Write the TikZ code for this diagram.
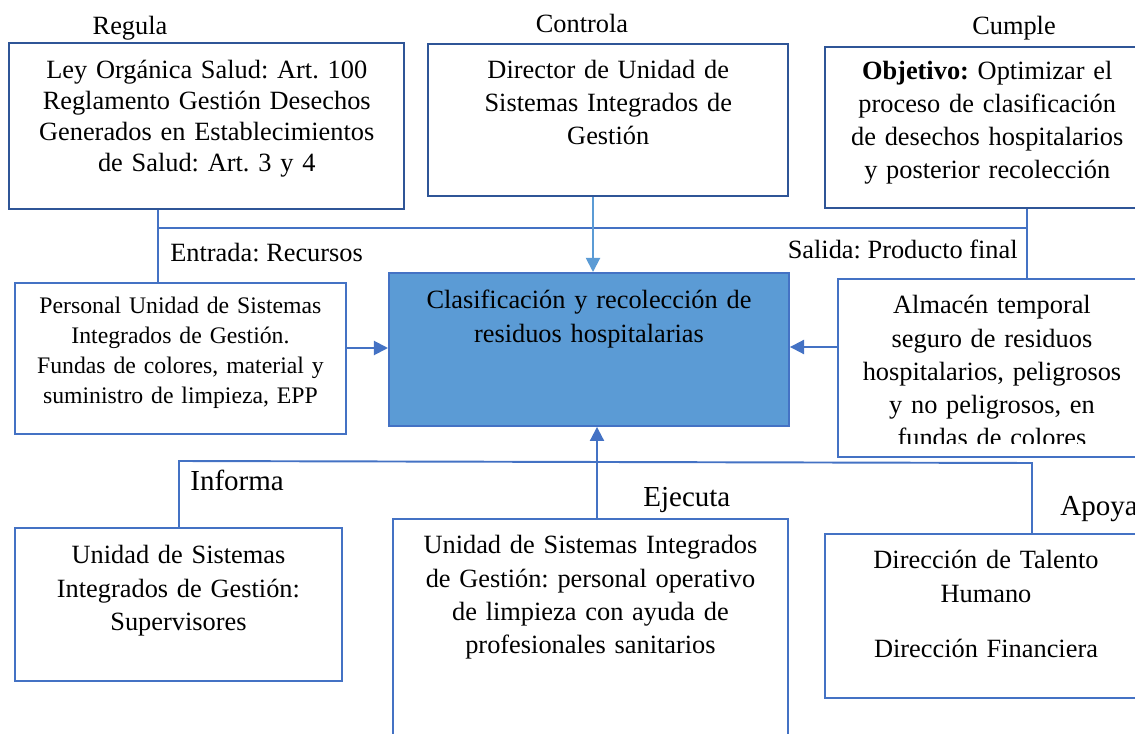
\documentclass[tikz,border=0pt]{standalone}
\usepackage{fontspec}
\setmainfont{Liberation Serif}
\usetikzlibrary{arrows.meta}
\frenchspacing

\definecolor{azuloscuro}{HTML}{2F5597}
\definecolor{azul}{HTML}{4472C4}
\definecolor{azulclaro}{HTML}{5B9BD5}

\tikzset{
  caja/.style={draw=azul, line width=1.1pt, anchor=north west, align=center, inner sep=0pt, font=\fontsize{15}{18.8}\selectfont},
  cajasup/.style={caja, draw=azuloscuro, line width=1.4pt},
  etiqueta/.style={font=\fontsize{15}{18}\selectfont, inner sep=0pt},
  etiquetagrande/.style={font=\fontsize{16.5}{20}\selectfont, inner sep=0pt, anchor=base west},
  linea/.style={azul, line width=1.1pt},
  flecha/.style={linea, -{Triangle[length=8pt,width=8pt]}}
}

\begin{document}
\begin{tikzpicture}

\useasboundingbox (0,0) rectangle (22.7,14.66);

% fila de arriba
\node[etiqueta, anchor=base] (regula) at (2.6,13.96) {Regula};
\node[etiqueta, anchor=base] (controla) at (11.64,14.0) {Controla};
\node[etiqueta, anchor=base] (cumple) at (20.28,13.96) {Cumple};

\node[cajasup, minimum width=7.9cm, text width=7.7cm, text height=0.70cm, text depth=2.62cm, font=\fontsize{15}{17.6}\selectfont] (ley) at (0.16,13.82) {Ley Orgánica Salud: Art. 100\\ Reglamento Gestión Desechos\\ Generados en Establecimientos\\ de Salud: Art. 3 y 4};
\node[cajasup, minimum width=7.2cm, text width=7cm, text height=0.68cm, text depth=2.36cm] (director) at (8.54,13.80) {Director de Unidad de\\ Sistemas Integrados de\\ Gestión};
\node[cajasup, minimum width=6.48cm, text width=6.2cm, text height=0.64cm, text depth=2.58cm] (objetivo) at (16.48,13.74) {\textbf{Objetivo:} Optimizar el\\ proceso de clasificación\\ de desechos hospitalarios\\ y posterior recolección};

% fila del medio
\node[etiqueta, anchor=base west] (entrada) at (3.4,9.42) {Entrada: Recursos};
\node[etiqueta, anchor=base east] (salida) at (20.36,9.48) {Salida: Producto final};

\node[caja, minimum width=6.62cm, text width=6.4cm, text height=0.62cm, text depth=2.40cm, font=\fontsize{13.5}{17}\selectfont] (recursos) at (0.28,9.02) {Personal Unidad de Sistemas\\ Integrados de Gestión.\\ Fundas de colores, material y\\ suministro de limpieza, EPP};
\node[caja, fill=azulclaro, minimum width=8.0cm, text width=7.7cm, text height=0.72cm, text depth=2.34cm] (proceso) at (7.76,9.22) {Clasificación y recolección de\\ residuos hospitalarias};

\begin{scope}
\clip (16.76,9.08) rectangle (23,5.80);
\node[caja, draw=none, minimum width=6.12cm, text width=5.9cm, text height=0.68cm, text depth=2.84cm] (almacen) at (16.76,9.08) {Almacén temporal\\ seguro de residuos\\ hospitalarios, peligrosos\\ y no peligrosos, en\\ fundas de colores};
\end{scope}
\draw[linea] (almacen.south west) rectangle (almacen.north east);

% fila de abajo
\node[etiquetagrande] (informa) at (3.8,4.86) {Informa};
\node[etiquetagrande] (ejecuta) at (12.86,4.54) {Ejecuta};
\node[etiquetagrande] (apoya) at (21.2,4.36) {Apoya};

\node[caja, minimum width=6.54cm, text width=6.3cm, text height=0.72cm, text depth=2.34cm] (supervisores) at (0.28,4.12) {Unidad de Sistemas\\ Integrados de Gestión:\\ Supervisores};
\node[caja, minimum width=7.9cm, text width=7.6cm, text height=0.70cm, text depth=4.1cm] (operativo) at (7.84,4.30) {Unidad de Sistemas Integrados\\ de Gestión: personal operativo\\ de limpieza con ayuda de\\ profesionales sanitarios};
\node[caja, minimum width=6.44cm, text width=6.2cm, text height=0.70cm, text depth=2.58cm] (direcciones) at (16.48,4.0) {Dirección de Talento\\ Humano\\[0.44cm] Dirección Financiera};

% conectores
\coordinate (entx) at (3.16,10.10);
\coordinate (salx) at (20.54,10.10);
\coordinate (ctrlx) at (11.86,0);
\coordinate (ejex) at (11.94,0);
\coordinate (ina) at (0,7.70);
\coordinate (outa) at (0,7.72);
\coordinate (infx) at (3.58,5.44);
\coordinate (apx) at (20.64,5.40);

\draw[linea] (ley.south -| entx) -- (recursos.north -| entx);
\draw[linea] (entx) -- (salx);
\draw[linea] (objetivo.south -| salx) -- (almacen.north -| salx);
\draw[flecha, azulclaro] (director.south -| ctrlx) -- (proceso.north -| ctrlx);
\draw[flecha] (recursos.east |- ina) -- (proceso.west |- ina);
\draw[flecha] (almacen.west |- outa) -- (proceso.east |- outa);
\draw[flecha] (operativo.north -| ejex) -- (proceso.south -| ejex);
\draw[linea] (supervisores.north -| infx) -- (infx) -- (apx) -- (direcciones.north -| apx);

\end{tikzpicture}
\end{document}
